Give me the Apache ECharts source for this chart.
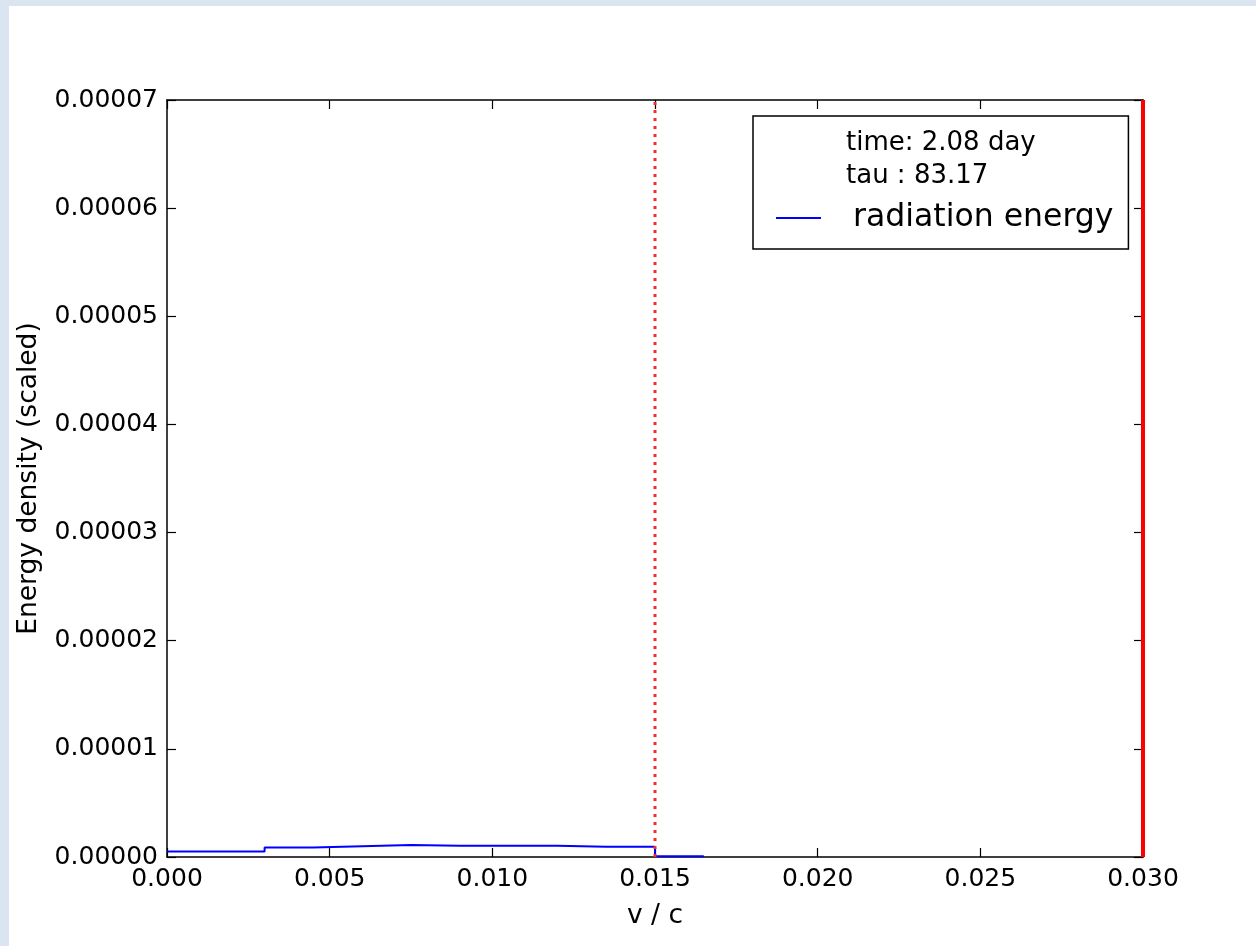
<!DOCTYPE html>
<html>
<head>
<meta charset="utf-8">
<script src="https://cdn.jsdelivr.net/npm/echarts@6/dist/echarts.min.js"></script>
<style>
html,body{margin:0;padding:0;background:#fff;}
#chart{width:1256px;height:946px;}
</style>
</head>
<body>
<div id="chart"></div>
<script>
// Bin edges (v/c) and scaled radiation energy density per bin
const binEdges = [0, 0.0015, 0.003, 0.0045, 0.006, 0.0075, 0.009, 0.0105, 0.012, 0.0135, 0.015, 0.0165];
const radEnergy = [0.5e-6, 0.5e-6, 0.88e-6, 1.0e-6, 1.12e-6, 1.05e-6, 1.05e-6, 1.05e-6, 0.95e-6, 0.95e-6, 0.08e-6];
// Vertical marker lines
const dottedMarkerX = [0.015];
const solidMarkerX = [0.03];
// Tick labels
const xTickLabels = ['0.000', '0.005', '0.010', '0.015', '0.020', '0.025', '0.030'];
const yTickLabels = ['0.00000', '0.00001', '0.00002', '0.00003', '0.00004', '0.00005', '0.00006', '0.00007'];
const legendLines = ['time: 2.08 day', 'tau : 83.17', 'radiation energy'];

const FONT = 'DejaVu Sans';
const X_MIN = 0, X_MAX = 0.03, X_INT = 0.005;
const Y_MIN = 0, Y_MAX = 7e-5, Y_INT = 1e-5;

const stepData = binEdges.slice(0, radEnergy.length).map((e, i) => [e, radEnergy[i]]);
stepData.push([binEdges[radEnergy.length], radEnergy[radEnergy.length - 1]]);

function vline(x) { return [[x, Y_MIN], [x, Y_MAX]]; }

const axisCommon = {
  axisLine: { show: true, onZero: false, lineStyle: { color: '#000', width: 1.5 } },
  axisTick: { show: true, inside: true, length: 9, lineStyle: { color: '#000', width: 1.2 } },
  splitLine: { show: false }
};

const chart = echarts.init(document.getElementById('chart'));
chart.setOption({
  backgroundColor: '#fff',
  animation: false,
  graphic: [
    { type: 'rect', shape: { x: 0, y: 0, width: 1256, height: 6 }, style: { fill: '#dbe5f1' }, silent: true },
    { type: 'rect', shape: { x: 0, y: 0, width: 9, height: 946 }, style: { fill: '#dbe5f1' }, silent: true }
  ],
  grid: { left: 167, top: 100, width: 976, height: 757, containLabel: false },
  xAxis: [
    Object.assign({}, axisCommon, {
      type: 'value', min: X_MIN, max: X_MAX, interval: X_INT, position: 'bottom',
      name: 'v / c', nameLocation: 'middle', nameGap: 46,
      nameTextStyle: { fontFamily: FONT, fontSize: 26.5, color: '#000' },
      axisLabel: { show: true, margin: 10, fontFamily: FONT, fontSize: 25, color: '#000',
        formatter: v => xTickLabels[Math.round((v - X_MIN) / X_INT)] }
    }),
    Object.assign({}, axisCommon, {
      type: 'value', min: X_MIN, max: X_MAX, interval: X_INT, position: 'top',
      axisLabel: { show: false }
    })
  ],
  yAxis: [
    Object.assign({}, axisCommon, {
      type: 'value', min: Y_MIN, max: Y_MAX, interval: Y_INT, position: 'left',
      name: 'Energy density (scaled)', nameLocation: 'middle', nameGap: 124, nameRotate: 90,
      nameTextStyle: { fontFamily: FONT, fontSize: 26.5, color: '#000' },
      axisLabel: { show: true, margin: 9, fontFamily: FONT, fontSize: 25, color: '#000',
        formatter: v => yTickLabels[Math.round((v - Y_MIN) / Y_INT)] }
    }),
    Object.assign({}, axisCommon, {
      type: 'value', min: Y_MIN, max: Y_MAX, interval: Y_INT, position: 'right',
      axisLabel: { show: false }
    })
  ],
  legend: {
    orient: 'vertical', left: 753, top: 116,
    padding: [11, 15, 6, 22],
    itemGap: 0, itemWidth: 45, itemHeight: 14,
    borderColor: '#000', borderWidth: 1.5, backgroundColor: '#fff',
    selectedMode: false,
    data: [
      { name: legendLines[0], itemStyle: { opacity: 0 }, lineStyle: { opacity: 0 },
        textStyle: { fontFamily: FONT, fontSize: 26, color: '#000', lineHeight: 33, padding: [0, 0, 0, 20] } },
      { name: legendLines[1], itemStyle: { opacity: 0 }, lineStyle: { opacity: 0 },
        textStyle: { fontFamily: FONT, fontSize: 26, color: '#000', lineHeight: 33, padding: [0, 0, 0, 20] } },
      { name: legendLines[2], itemStyle: { opacity: 0 },
        textStyle: { fontFamily: FONT, fontSize: 31.5, color: '#000', lineHeight: 50, padding: [0, 0, 0, 27] } }
    ]
  },
  series: [
    { name: legendLines[0], type: 'line', data: [], symbol: 'none', lineStyle: { opacity: 0 } },
    { name: legendLines[1], type: 'line', data: [], symbol: 'none', lineStyle: { opacity: 0 } },
    {
      name: legendLines[2], type: 'line', data: stepData, step: 'end',
      symbol: 'none', clip: false, color: '#0000ff',
      lineStyle: { color: '#0000ff', width: 2 }, z: 3
    },
    ...dottedMarkerX.map(x => ({
      type: 'line', data: vline(x), symbol: 'none', clip: false, silent: true,
      lineStyle: { color: '#ff2828', width: 3, type: [3, 5] }, z: 4
    })),
    ...solidMarkerX.map(x => ({
      type: 'line', data: vline(x), symbol: 'none', clip: false, silent: true,
      lineStyle: { color: '#ff0000', width: 4 }, z: 4
    }))
  ]
});
</script>
</body>
</html>
